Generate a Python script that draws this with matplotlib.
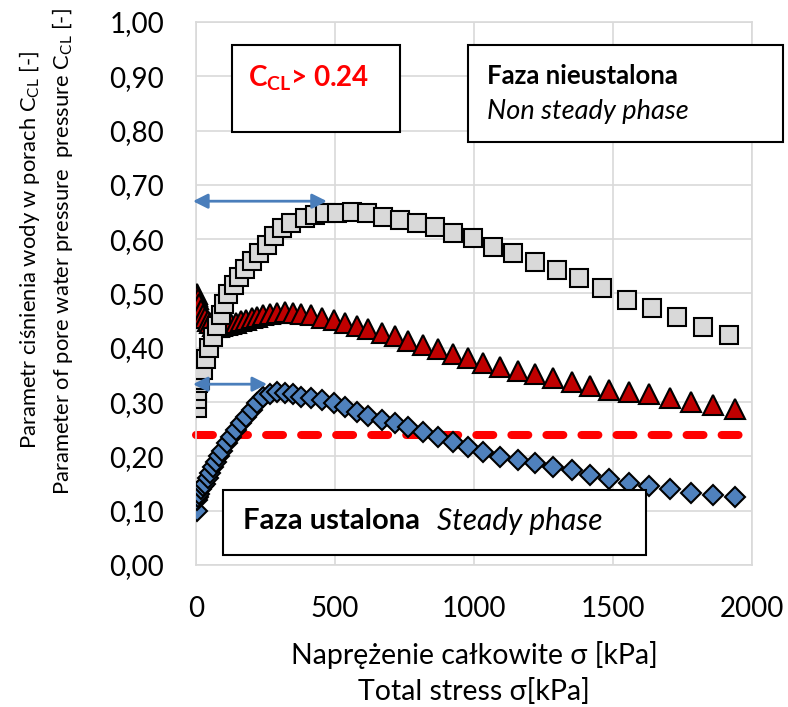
import matplotlib
matplotlib.use("Agg")
import matplotlib.pyplot as plt
from matplotlib.patches import Rectangle
from matplotlib.ticker import FuncFormatter, MultipleLocator

plt.rcParams['font.family'] = ['Lato', 'DejaVu Sans']

# stress [kPa] shared by triangle and diamond series
stress_tc = [3, 5, 8, 12, 18, 25, 33, 42, 52, 62, 72, 82, 95, 110, 127, 145, 163, 181,
             200, 220, 242, 266, 292, 320, 348, 378, 415, 455, 495, 536, 579, 620, 668,
             716, 764, 817, 870, 924, 978, 1032, 1094, 1158, 1219, 1284, 1353, 1417,
             1486, 1558, 1629, 1705, 1781, 1860, 1939]
ccl_triangle = [0.500, 0.495, 0.490, 0.480, 0.470, 0.460, 0.455, 0.450, 0.445, 0.440,
                0.438, 0.438, 0.440, 0.442, 0.444, 0.446, 0.449, 0.452, 0.455, 0.457,
                0.460, 0.462, 0.465, 0.466, 0.465, 0.463, 0.460, 0.455, 0.451, 0.446,
                0.440, 0.434, 0.428, 0.421, 0.413, 0.405, 0.397, 0.389, 0.381, 0.372,
                0.365, 0.358, 0.351, 0.344, 0.337, 0.330, 0.322, 0.319, 0.315, 0.308,
                0.301, 0.295, 0.287]
ccl_diamond = [0.100, 0.120, 0.125, 0.130, 0.140, 0.145, 0.150, 0.160, 0.170, 0.180,
               0.190, 0.200, 0.210, 0.224, 0.236, 0.249, 0.261, 0.273, 0.285, 0.298,
               0.309, 0.315, 0.318, 0.317, 0.315, 0.310, 0.308, 0.304, 0.298, 0.291,
               0.282, 0.274, 0.267, 0.262, 0.254, 0.245, 0.236, 0.227, 0.217, 0.208,
               0.199, 0.193, 0.188, 0.180, 0.175, 0.166, 0.158, 0.151, 0.145, 0.140,
               0.133, 0.129, 0.125]

# square series
stress_sq = [5, 3, 5, 8, 15, 25, 35, 45, 60, 75, 90, 100, 115, 135, 155, 175, 200, 225,
             255, 280, 310, 340, 392, 428, 464, 507, 561, 615, 673, 734, 795, 860, 924,
             996, 1068, 1140, 1219, 1299, 1378, 1460, 1550, 1640, 1730, 1824, 1917]
ccl_square = [0.290, 0.305, 0.320, 0.335, 0.340, 0.360, 0.380, 0.400, 0.420, 0.440,
              0.460, 0.480, 0.500, 0.515, 0.530, 0.545, 0.560, 0.575, 0.590, 0.605,
              0.620, 0.630, 0.639, 0.645, 0.648, 0.648, 0.650, 0.648, 0.641, 0.635,
              0.630, 0.622, 0.611, 0.602, 0.586, 0.575, 0.558, 0.543, 0.529, 0.510,
              0.488, 0.473, 0.457, 0.438, 0.424]

ccl_limit = 0.24


def px_ax(px, py):
    # figure pixel -> axes fraction
    return (px - 196) / 556, (565 - py) / 543


fig = plt.figure(figsize=(7.88, 7.07), dpi=100)
ax = fig.add_axes([196 / 788, 1 - 565 / 707, 556 / 788, 543 / 707])

ax.axhline(ccl_limit, xmax=1.005, color='#ff0000', lw=5.8, dashes=(2.1, 2.25),
           dash_capstyle='round', zorder=2, clip_on=False)

ax.plot(stress_tc, ccl_triangle, ls='none', marker='^', ms=14.5, mfc='#c00000',
        mec='black', mew=1.5, zorder=3)
ax.plot(stress_sq, ccl_square, ls='none', marker='s', ms=13, mfc='#d9d9d9',
        mec='black', mew=1.5, zorder=4)
ax.plot(stress_tc, ccl_diamond, ls='none', marker='D', ms=10.5, mfc='#4f81bd',
        mec='black', mew=1.5, zorder=5)

arrow = dict(arrowstyle='<|-|>', color='#4a7ebb', lw=2, mutation_scale=22,
             shrinkA=0, shrinkB=0)
ax.annotate('', xy=(-11, 0.67), xytext=(471, 0.67), arrowprops=arrow, zorder=6,
            annotation_clip=False)
ax.annotate('', xy=(-11, 0.333), xytext=(256, 0.333), arrowprops=arrow, zorder=6,
            annotation_clip=False)

ax.set_xlim(0, 2000)
ax.set_ylim(0, 1)
ax.xaxis.set_major_locator(MultipleLocator(500))
ax.yaxis.set_major_locator(MultipleLocator(0.1))
ax.yaxis.set_major_formatter(FuncFormatter(lambda v, p: f"{v:.2f}".replace('.', ',')))
ax.grid(True, color='#d9d9d9', lw=1.2, zorder=0)
ax.set_axisbelow(True)
for s in ax.spines.values():
    s.set_color('#d9d9d9')
    s.set_linewidth(1.2)
ax.tick_params(length=0, labelsize=20)
ax.tick_params(axis='y', pad=23)
ax.tick_params(axis='x', pad=22)

# text boxes
boxes = [(232, 45, 400, 132), (468, 45, 783, 142), (223, 490, 646, 555)]
for x0, y0, x1, y1 in boxes:
    ax0, ay1 = px_ax(x0, y0)
    ax1, ay0 = px_ax(x1, y1)
    ax.add_patch(Rectangle((ax0, ay0), ax1 - ax0, ay1 - ay0, transform=ax.transAxes,
                           fc='white', ec='black', lw=1.5, zorder=7, clip_on=False))

tx, ty = px_ax(248, 78)
ax.text(tx, ty, r'C$_\mathregular{CL}$> 0.24', transform=ax.transAxes, color='#ff0000',
        fontsize=20, fontweight='bold', va='center', ha='left', zorder=8)
tx, ty = px_ax(487, 76)
ax.text(tx, ty, 'Faza nieustalona', transform=ax.transAxes, fontsize=18.5,
        fontweight='bold', va='center', ha='left', zorder=8)
tx, ty = px_ax(487, 112)
ax.text(tx, ty, 'Non steady phase', transform=ax.transAxes, fontsize=19.5,
        style='italic', va='center', ha='left', zorder=8)
tx, ty = px_ax(243, 521)
ax.text(tx, ty, 'Faza ustalona', transform=ax.transAxes, fontsize=21,
        fontweight='bold', va='center', ha='left', zorder=8)
tx, ty = px_ax(437, 521)
ax.text(tx, ty, 'Steady phase', transform=ax.transAxes, fontsize=21.5,
        style='italic', va='center', ha='left', zorder=8)

# axis titles
fig.text(474 / 788, 1 - 655 / 707, 'Naprężenie całkowite σ [kPa]', fontsize=20.5,
         ha='center', va='center')
fig.text(474 / 788, 1 - 691 / 707, 'Total stress σ[kPa]', fontsize=20.5,
         ha='center', va='center')
fig.text(30 / 788, 1 - 250 / 707, r'Parametr ciśnienia wody w porach C$_\mathregular{CL}$ [-]',
         fontsize=15.8, rotation=90, ha='center', va='center')
fig.text(63 / 788, 1 - 252 / 707,
         r'Parameter of pore water pressure  pressure C$_\mathregular{CL}$ [-]',
         fontsize=15.8, rotation=90, ha='center', va='center')

fig.savefig('out.png', dpi=100)
